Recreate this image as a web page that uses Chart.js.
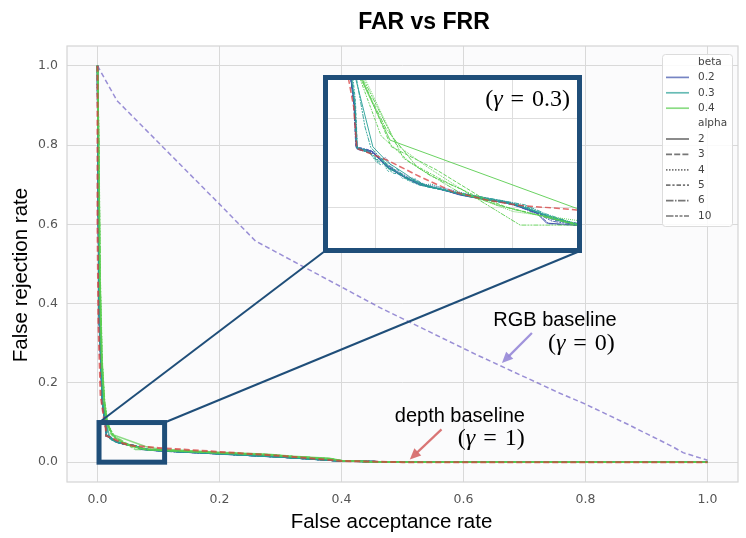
<!DOCTYPE html>
<html>
<head>
<meta charset="utf-8">
<script src="https://cdn.jsdelivr.net/npm/chart.js@4.4.1/dist/chart.umd.min.js"></script>
<style>
  body { margin: 0; background: #fff; }
  #wrap { position: relative; width: 746px; height: 538px; }
  #farChart { display: block; }
  #zoomFrame { position: absolute; left: 323px; top: 75px; width: 249px; height: 168px;
               border: 5px solid #1f4e79; background: #fff; }
  #zoomChart { display: block; }
</style>
</head>
<body>
<div id="wrap">
  <canvas id="farChart" width="746" height="538"></canvas>
  <div id="zoomFrame"><canvas id="zoomChart" width="249" height="168"></canvas></div>
</div>
<script>
// ---- data (FAR, FRR) pairs ----
const xTicks = [0, 0.2, 0.4, 0.6, 0.8, 1.0];
const yTicks = [0, 0.2, 0.4, 0.6, 0.8, 1.0];
const insetXTicks = [0.02, 0.04, 0.06];
const insetYTicks = [0.04, 0.06, 0.08];
const betas = ['0.2', '0.3', '0.4'];
const alphas = ['2', '3', '4', '5', '6', '10'];

const rgbBaseline = [[0,1],[0.032,0.912],[0.2,0.651],[0.259,0.558],[0.316,0.511],[0.463,0.39],[0.62,0.272],[0.758,0.174],[0.799,0.147],[0.87,0.095],[0.943,0.039],[0.96,0.024],[1,0.005]];
const depthBaseline = [[0,1],[0,0.6],[0.0015,0.35],[0.005,0.17],[0.0105,0.11],[0.0135,0.085],[0.0144,0.0664],[0.0231,0.0612],[0.0329,0.0536],[0.0425,0.0469],[0.0523,0.0432],[0.061,0.0409],[0.0786,0.0387],[0.1,0.036],[0.2,0.026],[0.3,0.016],[0.4,0.003],[0.5,0],[1,0]];

// beta 0.2
const b02a2 = [[0,1],[0.001,0.72],[0.003,0.36],[0.008,0.15],[0.012,0.106],[0.0137,0.086],[0.0144,0.0664],[0.0192,0.0649],[0.0231,0.0581],[0.028,0.0536],[0.0329,0.0499],[0.0396,0.0477],[0.0445,0.0454],[0.0523,0.0432],[0.0591,0.0418],[0.0669,0.0373],[0.0698,0.0328],[0.0786,0.0319],[0.1,0.029],[0.2,0.021],[0.3,0.013],[0.4,0.003],[0.5,0],[1,0]];
const b02a3 = [[0,1],[0.001,0.7],[0.003,0.35],[0.008,0.148],[0.0122,0.104],[0.0136,0.085],[0.0142,0.0668],[0.0188,0.0652],[0.0222,0.0598],[0.0268,0.0548],[0.0318,0.0508],[0.0372,0.0486],[0.0432,0.0462],[0.0505,0.0438],[0.0578,0.0421],[0.0655,0.0385],[0.0722,0.0341],[0.0786,0.0325],[0.1,0.0295],[0.2,0.0215],[0.3,0.0132],[0.4,0.0032],[0.5,0],[1,0]];
const b02a4 = [[0,1],[0.001,0.71],[0.003,0.355],[0.008,0.152],[0.0121,0.105],[0.0138,0.087],[0.0145,0.066],[0.0195,0.0641],[0.0214,0.0615],[0.0228,0.0622],[0.0252,0.0571],[0.0289,0.0539],[0.0341,0.0503],[0.041,0.0481],[0.0468,0.0457],[0.054,0.0436],[0.0612,0.0414],[0.0684,0.0368],[0.0786,0.0322],[0.1,0.0292],[0.2,0.0212],[0.3,0.0131],[0.4,0.003],[0.5,0],[1,0]];
const b02a5 = [[0,1],[0.001,0.73],[0.003,0.37],[0.008,0.151],[0.0119,0.107],[0.0135,0.088],[0.0141,0.0672],[0.0184,0.0655],[0.0219,0.0602],[0.0262,0.056],[0.0305,0.0521],[0.0358,0.0492],[0.0421,0.0469],[0.049,0.0445],[0.0561,0.0426],[0.064,0.0392],[0.071,0.0347],[0.0786,0.0328],[0.1,0.0298],[0.2,0.0218],[0.3,0.0134],[0.4,0.0033],[0.5,0],[1,0]];
const b02a6 = [[0,1],[0.001,0.69],[0.003,0.345],[0.008,0.149],[0.0123,0.103],[0.0139,0.084],[0.0146,0.0659],[0.0198,0.0638],[0.024,0.0574],[0.0292,0.053],[0.0345,0.0495],[0.0405,0.0474],[0.0458,0.0451],[0.053,0.043],[0.06,0.0412],[0.0675,0.0366],[0.0705,0.0325],[0.0786,0.0317],[0.1,0.0288],[0.2,0.0209],[0.3,0.0129],[0.4,0.0029],[0.5,0],[1,0]];
const b02a10 = [[0,1],[0.001,0.715],[0.003,0.358],[0.008,0.15],[0.012,0.105],[0.0137,0.086],[0.0143,0.0666],[0.019,0.0647],[0.0226,0.059],[0.0274,0.0542],[0.0322,0.0504],[0.0385,0.0481],[0.044,0.0458],[0.0515,0.0435],[0.0585,0.042],[0.066,0.038],[0.0715,0.0336],[0.0786,0.0321],[0.1,0.0291],[0.2,0.0211],[0.3,0.013],[0.4,0.0031],[0.5,0],[1,0]];
// beta 0.3
const b03a2 = [[0,1],[0.0012,0.74],[0.0032,0.37],[0.0085,0.155],[0.0128,0.108],[0.0142,0.097],[0.0191,0.0671],[0.0235,0.06],[0.029,0.0545],[0.0329,0.05],[0.04,0.0476],[0.046,0.0452],[0.053,0.0431],[0.06,0.0415],[0.067,0.0378],[0.073,0.034],[0.0786,0.032],[0.1,0.0293],[0.2,0.0214],[0.3,0.0133],[0.4,0.0031],[0.5,0],[1,0]];
const b03a3 = [[0,1],[0.0011,0.72],[0.0031,0.36],[0.0082,0.152],[0.0124,0.105],[0.0138,0.086],[0.0143,0.067],[0.017,0.065],[0.0196,0.063],[0.0208,0.0605],[0.0221,0.0615],[0.024,0.0565],[0.0262,0.0572],[0.029,0.052],[0.0315,0.0526],[0.035,0.049],[0.041,0.0472],[0.047,0.045],[0.0545,0.0428],[0.061,0.0408],[0.068,0.0372],[0.0786,0.0322],[0.1,0.0294],[0.2,0.0213],[0.3,0.0132],[0.4,0.003],[0.5,0],[1,0]];
const b03a4 = [[0,1],[0.0011,0.73],[0.0031,0.365],[0.0083,0.153],[0.0125,0.106],[0.0139,0.087],[0.0145,0.0665],[0.018,0.0648],[0.0203,0.0598],[0.0218,0.0608],[0.0235,0.056],[0.0255,0.0566],[0.0278,0.0528],[0.0305,0.0532],[0.0335,0.05],[0.0362,0.0503],[0.042,0.047],[0.048,0.0452],[0.0555,0.0425],[0.0625,0.0405],[0.069,0.0365],[0.0786,0.0324],[0.1,0.0295],[0.2,0.0215],[0.3,0.0133],[0.4,0.0031],[0.5,0],[1,0]];
const b03a5 = [[0,1],[0.0012,0.735],[0.0032,0.368],[0.0084,0.154],[0.0126,0.107],[0.014,0.088],[0.0146,0.0662],[0.0188,0.064],[0.0212,0.059],[0.0229,0.0598],[0.0248,0.0553],[0.0272,0.0547],[0.03,0.0515],[0.033,0.0497],[0.038,0.0484],[0.044,0.0462],[0.05,0.0447],[0.057,0.0424],[0.064,0.04],[0.07,0.0358],[0.0786,0.0326],[0.1,0.0296],[0.2,0.0216],[0.3,0.0134],[0.4,0.0032],[0.5,0],[1,0]];
const b03a6 = [[0,1],[0.0011,0.725],[0.0031,0.362],[0.0082,0.151],[0.0124,0.104],[0.0138,0.085],[0.0144,0.0668],[0.0175,0.0655],[0.02,0.0612],[0.0216,0.062],[0.0232,0.0578],[0.0258,0.0558],[0.0285,0.0535],[0.032,0.0512],[0.037,0.0488],[0.043,0.0466],[0.0495,0.0446],[0.0565,0.043],[0.0635,0.041],[0.0695,0.037],[0.0786,0.0323],[0.1,0.0294],[0.2,0.0214],[0.3,0.0132],[0.4,0.003],[0.5,0],[1,0]];
const b03a10 = [[0,1],[0.0012,0.745],[0.0033,0.372],[0.0086,0.156],[0.0129,0.109],[0.0144,0.097],[0.0168,0.076],[0.0185,0.0668],[0.022,0.061],[0.026,0.056],[0.031,0.0515],[0.0365,0.049],[0.043,0.0468],[0.05,0.0448],[0.0575,0.0426],[0.065,0.0395],[0.072,0.035],[0.0786,0.0322],[0.1,0.0295],[0.2,0.0215],[0.3,0.0133],[0.4,0.0031],[0.5,0],[1,0]];
// beta 0.4
const b04a2 = [[0,1],[0.002,0.8],[0.004,0.46],[0.007,0.26],[0.011,0.155],[0.0145,0.112],[0.0158,0.097],[0.0241,0.0701],[0.0786,0.0394],[0.1,0.033],[0.2,0.025],[0.28,0.02],[0.32,0.015],[0.38,0.01],[0.4,0.004],[0.45,0.001],[0.5,0],[1,0]];
const b04a3 = [[0,1],[0.002,0.79],[0.0042,0.45],[0.0072,0.255],[0.0112,0.152],[0.0148,0.11],[0.0162,0.097],[0.0245,0.0671],[0.0377,0.0567],[0.0504,0.0447],[0.058,0.04],[0.0786,0.0319],[0.1,0.031],[0.2,0.024],[0.28,0.019],[0.32,0.014],[0.38,0.009],[0.4,0.004],[0.45,0.001],[0.5,0],[1,0]];
const b04a4 = [[0,1],[0.0022,0.81],[0.0044,0.47],[0.0075,0.26],[0.0115,0.158],[0.0152,0.114],[0.017,0.097],[0.026,0.068],[0.035,0.058],[0.048,0.045],[0.06,0.038],[0.0786,0.034],[0.1,0.031],[0.2,0.024],[0.28,0.019],[0.33,0.013],[0.38,0.009],[0.4,0.004],[0.45,0.001],[0.5,0],[1,0]];
const b04a5 = [[0,1],[0.0019,0.78],[0.004,0.44],[0.0069,0.25],[0.0108,0.15],[0.0142,0.108],[0.0155,0.097],[0.0215,0.072],[0.03,0.06],[0.042,0.05],[0.055,0.041],[0.0786,0.0325],[0.1,0.0305],[0.2,0.0235],[0.28,0.0185],[0.32,0.014],[0.38,0.0085],[0.4,0.0035],[0.45,0.001],[0.5,0],[1,0]];
const b04a6 = [[0,1],[0.002,0.795],[0.0041,0.455],[0.0071,0.258],[0.011,0.153],[0.0146,0.111],[0.016,0.097],[0.023,0.075],[0.032,0.058],[0.045,0.046],[0.06,0.039],[0.0786,0.0322],[0.1,0.0308],[0.2,0.0238],[0.28,0.019],[0.32,0.0142],[0.38,0.0088],[0.4,0.0036],[0.45,0.001],[0.5,0],[1,0]];
const b04a10 = [[0,1],[0.0021,0.805],[0.0043,0.465],[0.0074,0.262],[0.0114,0.156],[0.015,0.113],[0.0165,0.097],[0.022,0.08],[0.028,0.062],[0.036,0.054],[0.045,0.048],[0.0621,0.0319],[0.0786,0.0319],[0.1,0.0302],[0.2,0.0232],[0.28,0.0188],[0.32,0.0138],[0.38,0.0086],[0.4,0.0034],[0.45,0.001],[0.5,0],[1,0]];

const curvesByBeta = [
  [b02a2, b02a3, b02a4, b02a5, b02a6, b02a10],
  [b03a2, b03a3, b03a4, b03a5, b03a6, b03a10],
  [b04a2, b04a3, b04a4, b04a5, b04a6, b04a10]
];

// ---- styles ----
const betaRGB = ['60,80,170', '40,160,150', '90,205,80'];
const alphaDash = [[], [6, 2.2], [1.5, 1.5], [4.5, 1.9, 2.2, 1.9], [7.5, 1.5, 1.5, 1.5], [7.5, 1.5, 3, 1.5, 3, 1.5]];
const navy = '#1f4e79';
const redLine = 'rgba(215,60,60,0.75)';
const lavLine = 'rgba(120,105,200,0.75)';

// zoomed region marked on the main plot, in data units
const zoomBox = {x0: 0.0025, x1: 0.11, y0: 0.0, y1: 0.1};

function pts(arr) { return arr.map(p => ({x: p[0], y: p[1]})); }

function buildSets(lw, op) {
  const sets = [];
  sets.push({data: pts(depthBaseline), borderColor: redLine, borderDash: [6, 3], borderWidth: lw + 0.5});
  sets.push({data: pts(rgbBaseline), borderColor: lavLine, borderDash: [5, 3], borderWidth: lw});
  for (let b = betas.length - 1; b >= 0; b--) {
    curvesByBeta[b].forEach((c, a) => {
      sets.push({data: pts(c), borderColor: 'rgba(' + betaRGB[b] + ',' + op + ')',
                 borderDash: alphaDash[a].map(d => d * lw / 1.5), borderWidth: lw});
    });
  }
  sets.forEach(s => { s.pointRadius = 0; s.tension = 0; s.fill = false; });
  return sets;
}

function drawGamma(ctx, x, y, val, size, align) {
  const gap = size * 0.33;
  const up = size + 'px "Liberation Serif"';
  const it = 'italic ' + size + 'px "Liberation Serif"';
  ctx.font = up; const w1 = ctx.measureText('(').width;
  ctx.font = it; const w2 = ctx.measureText('\u03b3').width;
  ctx.font = up; const w3 = ctx.measureText('=').width;
  const w4 = ctx.measureText(val + ')').width;
  const total = w1 + w2 + gap + w3 + gap + w4;
  let cx = align === 'right' ? x - total : x;
  ctx.textAlign = 'left'; ctx.textBaseline = 'alphabetic'; ctx.fillStyle = '#000';
  ctx.font = up; ctx.fillText('(', cx, y); cx += w1;
  ctx.font = it; ctx.fillText('\u03b3', cx, y); cx += w2 + gap;
  ctx.font = up; ctx.fillText('=', cx, y); cx += w3 + gap;
  ctx.fillText(val + ')', cx, y);
}

function arrow(ctx, x0, y0, x1, y1, color) {
  const ang = Math.atan2(y1 - y0, x1 - x0), L = 11, W = 5;
  ctx.save();
  ctx.strokeStyle = color; ctx.fillStyle = color; ctx.lineWidth = 2.2; ctx.setLineDash([]);
  ctx.beginPath(); ctx.moveTo(x0, y0);
  ctx.lineTo(x1 - L * 0.8 * Math.cos(ang), y1 - L * 0.8 * Math.sin(ang)); ctx.stroke();
  ctx.beginPath(); ctx.moveTo(x1, y1);
  ctx.lineTo(x1 - L * Math.cos(ang) + W * Math.sin(ang), y1 - L * Math.sin(ang) - W * Math.cos(ang));
  ctx.lineTo(x1 - L * Math.cos(ang) - W * Math.sin(ang), y1 - L * Math.sin(ang) + W * Math.cos(ang));
  ctx.closePath(); ctx.fill();
  ctx.restore();
}

// annotations pointing at the baselines
const notes = [
  {tip: [0.663, 0.25], tail: [30, -30], label: 'RGB baseline', labelAt: [53, -37], gamma: '0', gammaAt: [46, -13], color: 'rgba(150,135,215,0.9)'},
  {tip: [0.512, 0.007], tail: [31.7, -30], label: 'depth baseline', labelAt: [50, -37.6], gamma: '1', gammaAt: [48, -14], color: 'rgba(215,110,110,0.95)'}
];

const decor = {
  id: 'decor',
  beforeDraw(chart) {
    const {ctx, chartArea: a} = chart;
    ctx.save(); ctx.fillStyle = '#fbfbfc';
    ctx.fillRect(a.left, a.top, a.right - a.left, a.bottom - a.top); ctx.restore();
  },
  beforeDatasetsDraw(chart) {
    const {ctx, chartArea: a} = chart;
    ctx.save(); ctx.strokeStyle = '#d4d4d4'; ctx.lineWidth = 1.2;
    ctx.strokeRect(a.left, a.top, a.right - a.left, a.bottom - a.top); ctx.restore();
  },
  afterDatasetsDraw(chart) {
    const {ctx, scales: {x, y}} = chart;
    const bx0 = x.getPixelForValue(zoomBox.x0), bx1 = x.getPixelForValue(zoomBox.x1);
    const by0 = y.getPixelForValue(zoomBox.y0), by1 = y.getPixelForValue(zoomBox.y1);
    const fr = document.getElementById('zoomFrame');
    const fl = fr.offsetLeft + 2, frt = fr.offsetLeft + fr.offsetWidth - 2, fb = fr.offsetTop + fr.offsetHeight - 2;
    ctx.save();
    ctx.strokeStyle = navy; ctx.lineWidth = 2; ctx.setLineDash([]);
    ctx.beginPath(); ctx.moveTo(bx0, by1); ctx.lineTo(fl, fb); ctx.stroke();
    ctx.beginPath(); ctx.moveTo(bx1, by1); ctx.lineTo(frt, fb); ctx.stroke();
    ctx.lineWidth = 5;
    ctx.strokeRect(bx0, by1, bx1 - bx0, by0 - by1);
    ctx.restore();
  },
  afterDraw(chart) {
    const {ctx, chartArea: a, scales: {x, y}} = chart;
    ctx.save();
    // title and axis titles
    ctx.fillStyle = '#000'; ctx.textAlign = 'center'; ctx.textBaseline = 'alphabetic';
    ctx.font = 'bold 23px "Liberation Sans"';
    ctx.fillText('FAR vs FRR', 424, 29);
    ctx.font = '20.5px "Liberation Sans"';
    ctx.fillText('False acceptance rate', (a.left + a.right) / 2 - 11, a.bottom + 45.5);
    ctx.save();
    ctx.translate(26.5, (a.top + a.bottom) / 2 + 11);
    ctx.rotate(-Math.PI / 2);
    ctx.fillText('False rejection rate', 0, 0);
    ctx.restore();

    // baseline annotations
    notes.forEach(n => {
      const tx = x.getPixelForValue(n.tip[0]), ty = y.getPixelForValue(n.tip[1]);
      arrow(ctx, tx + n.tail[0], ty + n.tail[1], tx, ty, n.color);
      ctx.fillStyle = '#000'; ctx.textAlign = 'center'; ctx.textBaseline = 'alphabetic';
      ctx.font = '20px "Liberation Sans"';
      ctx.fillText(n.label, tx + n.labelAt[0], ty + n.labelAt[1]);
      drawGamma(ctx, tx + n.gammaAt[0], ty + n.gammaAt[1], n.gamma, 24, 'left');
    });

    // legend
    const lx = a.right - 76, ly = a.top + 8, lw = 70, lh = 172, step = 15.4;
    ctx.fillStyle = 'rgba(255,255,255,0.85)'; ctx.strokeStyle = '#dcdcdc'; ctx.lineWidth = 1;
    ctx.beginPath(); ctx.roundRect(lx + 0.5, ly + 0.5, lw, lh, 3); ctx.fill(); ctx.stroke();
    const rows = [{t: 'beta'}]
      .concat(betas.map((b, i) => ({t: b, c: 'rgba(' + betaRGB[i] + ',0.7)', d: []})))
      .concat([{t: 'alpha'}])
      .concat(alphas.map((al, i) => ({t: al, c: '#777', d: alphaDash[i]})));
    ctx.font = '10.5px "DejaVu Sans"'; ctx.textAlign = 'left'; ctx.textBaseline = 'middle';
    rows.forEach((r, i) => {
      const ry = ly + 8 + i * step;
      if (r.c) {
        ctx.strokeStyle = r.c; ctx.lineWidth = 1.7; ctx.setLineDash(r.d);
        ctx.beginPath(); ctx.moveTo(lx + 4, ry); ctx.lineTo(lx + 27, ry); ctx.stroke();
        ctx.setLineDash([]);
      }
      ctx.fillStyle = '#444'; ctx.fillText(r.t, lx + 36, ry);
    });
    ctx.restore();
  }
};

const mainChart = new Chart(document.getElementById('farChart'), {
  type: 'line',
  data: {datasets: buildSets(1.5, 0.7)},
  options: {
    responsive: false, animation: false, events: [],
    layout: {padding: {top: 46, right: 8, left: 0, bottom: 0}},
    plugins: {legend: {display: false}, tooltip: {enabled: false}},
    scales: {
      x: {
        type: 'linear', min: -0.05, max: 1.05,
        afterBuildTicks: s => { s.ticks = xTicks.map(v => ({value: v})); },
        afterFit: s => { s.height = 56; },
        grid: {color: '#d9d9d9', drawTicks: false},
        border: {display: false},
        ticks: {padding: 10, color: '#555', font: {family: 'DejaVu Sans', size: 12.5}, callback: v => v.toFixed(1)}
      },
      y: {
        type: 'linear', min: -0.05, max: 1.05,
        afterBuildTicks: s => { s.ticks = yTicks.map(v => ({value: v})); },
        afterFit: s => { s.width = 67; },
        grid: {color: '#d9d9d9', drawTicks: false},
        border: {display: false},
        ticks: {padding: 9, color: '#555', font: {family: 'DejaVu Sans', size: 12.5}, callback: v => v.toFixed(1)}
      }
    }
  },
  plugins: [decor]
});

const gammaLabel = {
  id: 'gammaLabel',
  afterDraw(chart) {
    drawGamma(chart.ctx, chart.width - 7, 26, '0.3', 24, 'right');
  }
};

new Chart(document.getElementById('zoomChart'), {
  type: 'line',
  data: {datasets: buildSets(1.0, 0.9)},
  options: {
    responsive: false, animation: false, events: [],
    layout: {padding: 0},
    plugins: {legend: {display: false}, tooltip: {enabled: false}},
    scales: {
      x: {
        type: 'linear', min: 0.006, max: 0.0787,
        afterBuildTicks: s => { s.ticks = insetXTicks.map(v => ({value: v})); },
        afterFit: s => { s.height = 0; },
        grid: {color: '#dedede', drawTicks: false}, border: {display: false},
        ticks: {display: false}
      },
      y: {
        type: 'linear', min: 0.0216, max: 0.0971,
        afterBuildTicks: s => { s.ticks = insetYTicks.map(v => ({value: v})); },
        afterFit: s => { s.width = 0; },
        grid: {color: '#dedede', drawTicks: false}, border: {display: false},
        ticks: {display: false}
      }
    }
  },
  plugins: [gammaLabel]
});
</script>
</body>
</html>
